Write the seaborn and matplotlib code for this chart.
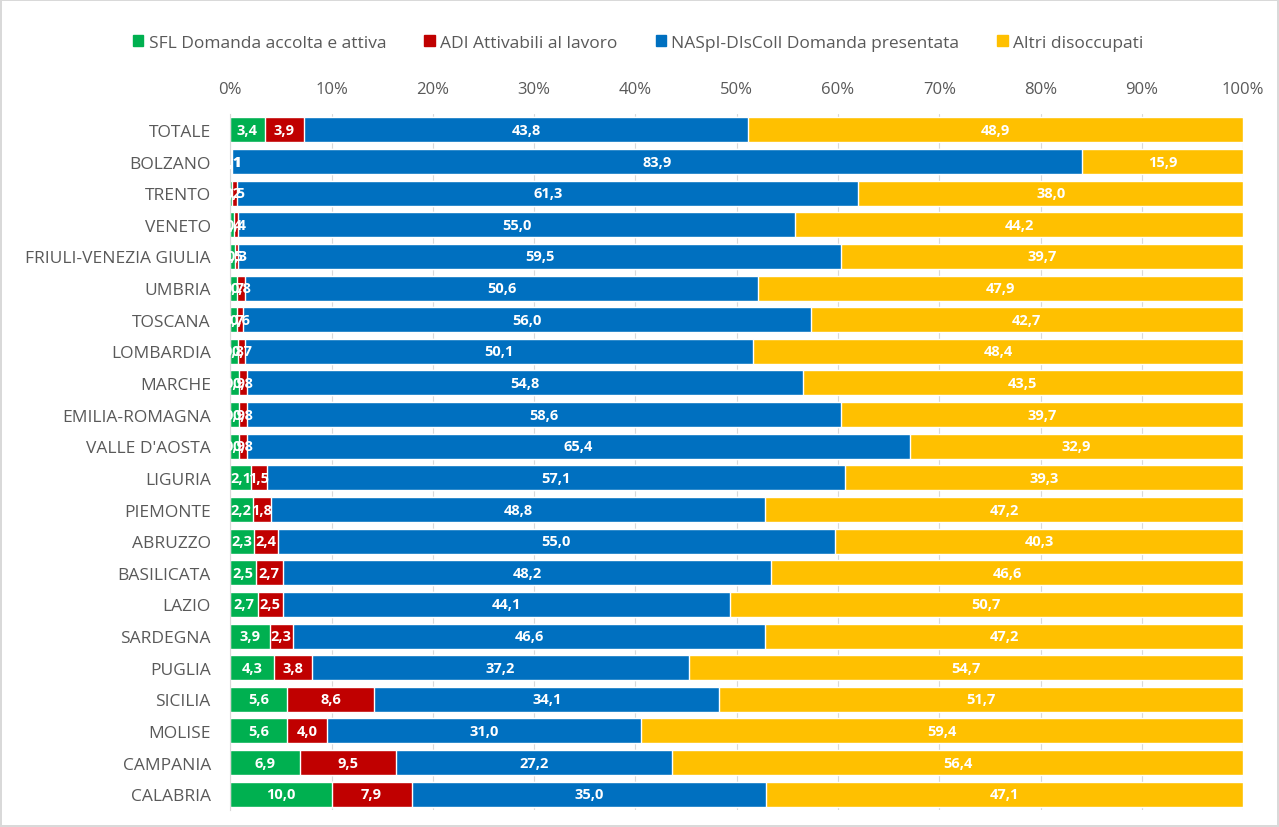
import pandas as pd
import numpy as np
import matplotlib.pyplot as plt
import seaborn as sns

# Dati (percentuali)
regioni = ["TOTALE", "BOLZANO", "TRENTO", "VENETO", "FRIULI-VENEZIA GIULIA", "UMBRIA",
           "TOSCANA", "LOMBARDIA", "MARCHE", "EMILIA-ROMAGNA", "VALLE D'AOSTA", "LIGURIA",
           "PIEMONTE", "ABRUZZO", "BASILICATA", "LAZIO", "SARDEGNA", "PUGLIA", "SICILIA",
           "MOLISE", "CAMPANIA", "CALABRIA"]
sfl = [3.4, 0.1, 0.2, 0.4, 0.5, 0.7, 0.7, 0.8, 0.9, 0.9, 0.9, 2.1, 2.2, 2.3, 2.5, 2.7,
       3.9, 4.3, 5.6, 5.6, 6.9, 10.0]
adi = [3.9, 0.1, 0.5, 0.4, 0.3, 0.8, 0.6, 0.7, 0.8, 0.8, 0.8, 1.5, 1.8, 2.4, 2.7, 2.5,
       2.3, 3.8, 8.6, 4.0, 9.5, 7.9]
naspi = [43.8, 83.9, 61.3, 55.0, 59.5, 50.6, 56.0, 50.1, 54.8, 58.6, 65.4, 57.1, 48.8,
         55.0, 48.2, 44.1, 46.6, 37.2, 34.1, 31.0, 27.2, 35.0]
altri = [48.9, 15.9, 38.0, 44.2, 39.7, 47.9, 42.7, 48.4, 43.5, 39.7, 32.9, 39.3, 47.2,
         40.3, 46.6, 50.7, 47.2, 54.7, 51.7, 59.4, 56.4, 47.1]

serie = ["SFL Domanda accolta e attiva", "ADI Attivabili al lavoro",
         "NASpI-DIsColl Domanda presentata", "Altri disoccupati"]
colori = ["#00B050", "#C00000", "#0070C0", "#FFC000"]

df = pd.DataFrame({"regione": regioni, serie[0]: sfl, serie[1]: adi,
                   serie[2]: naspi, serie[3]: altri})
cum = df[serie].cumsum(axis=1)
cum["regione"] = df["regione"]

sns.set_style("white")
plt.rcParams['font.family'] = ['Open Sans', 'DejaVu Sans']

fig = plt.figure(figsize=(12.79, 8.28), dpi=100, edgecolor="#d9d9d9", linewidth=1.5)
ax = fig.add_axes([0.18, 0.0205, 0.792, 0.8405])

# griglia verticale leggera dietro le barre
ax.set_axisbelow(True)
ax.grid(axis="x", color="#d9d9d9", linewidth=0.8)

# Barre impilate: si disegnano le somme cumulative dalla più lunga alla più corta
for s, c in reversed(list(zip(serie, colori))):
    sns.barplot(data=cum, x=s, y="regione", color=c, width=0.79, saturation=1,
                orient="h", ax=ax, label=s)

# Etichette dei valori al centro di ogni segmento
left = np.zeros(len(regioni))
for s in serie:
    vals = df[s].to_numpy()
    for i, v in enumerate(vals):
        ax.text(left[i] + v / 2, i, f"{v:.1f}".replace(".", ","), ha="center",
                va="center", color="white", fontweight="bold", fontsize=10.5)
    left += vals

ax.set_xlim(0, 100)
ax.set_ylim(len(regioni) - 0.5, -0.5)
ax.xaxis.tick_top()
ax.set_xticks(range(0, 101, 10))
ax.set_xticklabels([f"{t}%" for t in range(0, 101, 10)])
ax.tick_params(axis="x", length=0, labelsize=12, colors="#595959", pad=12)
ax.tick_params(axis="y", length=0, labelsize=12.5, colors="#595959", pad=14)
ax.set_xlabel("")
ax.set_ylabel("")
for sp in ["top", "right", "bottom"]:
    ax.spines[sp].set_visible(False)
ax.spines["left"].set_color("#d9d9d9")
if ax.legend_:
    ax.legend_.remove()

handles = [plt.Rectangle((0, 0), 1, 1, color=c) for c in colori]
fig.legend(handles, serie, loc="center", bbox_to_anchor=(0.499, 0.947), ncol=4,
           frameon=False, fontsize=12.5, handlelength=0.6, handleheight=0.6,
           handletextpad=0.3, columnspacing=2.2, labelcolor="#595959")

fig.savefig("out.png", dpi=100, edgecolor=fig.get_edgecolor())
